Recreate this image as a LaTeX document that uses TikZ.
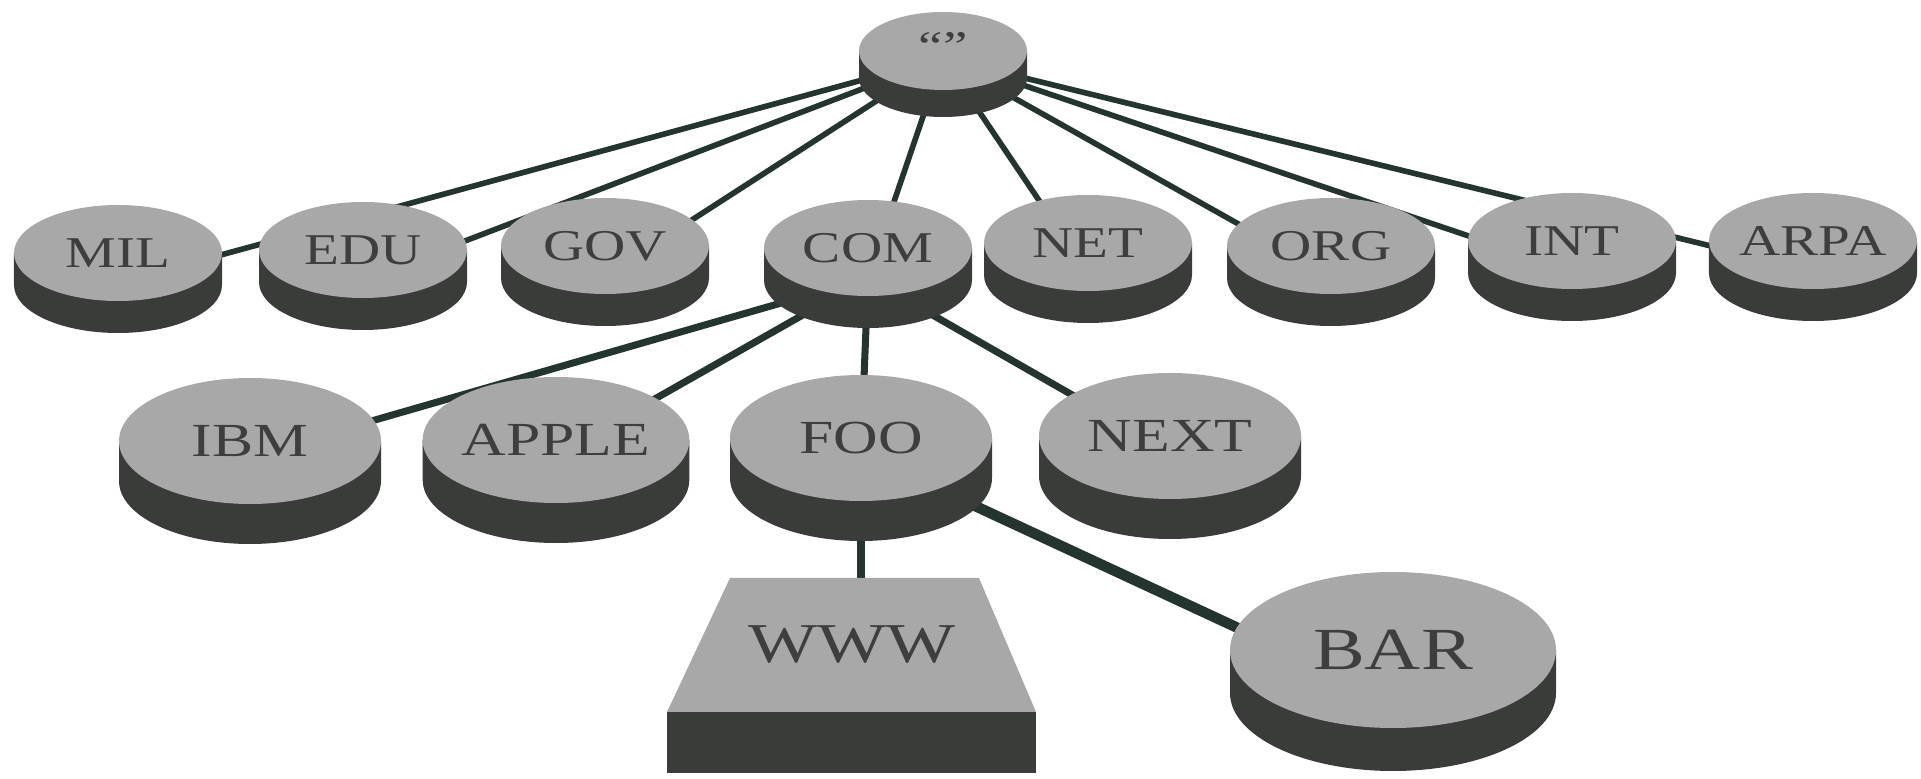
\documentclass[tikz,border=0pt]{standalone}
\usepackage{fontspec}
\setmainfont{Liberation Serif}[FakeStretch=1.3]
\usetikzlibrary{shapes.geometric,calc}
\definecolor{topgray}{RGB}{168,168,168}
\definecolor{sidegray}{RGB}{58,60,58}
\definecolor{linecol}{RGB}{36,52,46}
\definecolor{labelgray}{RGB}{62,62,62}
\pgfdeclarelayer{links}
\pgfdeclarelayer{sides}
\pgfsetlayers{links,sides,main}
\tikzset{
	disc/.style={ellipse, fill=topgray, inner sep=0pt, outer sep=0pt, text=labelgray},
	rootdisc/.style={disc, minimum width=1.68cm, minimum height=0.78cm, font=\fontsize{12}{14}\selectfont},
	tld/.style={disc, minimum width=2.08cm, minimum height=0.96cm, font=\fontsize{12.5}{15}\selectfont},
	sld/.style={disc, minimum width=2.62cm, minimum height=1.26cm, font=\fontsize{13.5}{16}\selectfont},
	bigdisc/.style={disc, minimum width=3.26cm, minimum height=1.56cm, font=\fontsize{17}{20}\selectfont},
	host/.style={rectangle, minimum width=3.69cm, minimum height=1.34cm, inner sep=0pt, outer sep=0pt,
		text=labelgray, font=\fontsize{16}{19}\selectfont},
	link/.style={draw=linecol, line width=1.6pt},
	heavylink/.style={link, line width=2pt}
}
\begin{document}
\begin{tikzpicture}
	\useasboundingbox (0,0) rectangle (19.21,7.79);
	% Wurzel
	\node [rootdisc] (root) at (9.43,7.28) {\strut “”};
	% Top-Level-Domains
	\node [tld] (mil) at (1.18,5.26) {MIL};
	\node [tld] (edu) at (3.63,5.29) {EDU};
	\node [tld] (gov) at (6.05,5.33) {GOV};
	\node [tld] (com) at (8.68,5.31) {COM};
	\node [tld] (net) at (10.88,5.36) {NET};
	\node [tld] (org) at (13.31,5.33) {ORG};
	\node [tld] (int) at (15.72,5.38) {INT};
	\node [tld] (arpa) at (18.13,5.38) {ARPA};
	% unter COM
	\node [sld] (ibm) at (2.50,3.38) {IBM};
	\node [sld] (apple) at (5.56,3.39) {APPLE};
	\node [sld] (foo) at (8.61,3.41) {FOO};
	\node [sld] (next) at (11.70,3.43) {NEXT};
	% unter FOO
	\node [host] (www) at (8.515,1.34) {WWW};
	\node [bigdisc] (bar) at (13.93,1.29) {BAR};
	% dunkle Seiten
	\begin{pgfonlayer}{sides}
		\foreach \k/\d/\s in {root/0.27/0.07, mil/0.32/0.30, edu/0.32/0.30, gov/0.32/0.30, com/0.32/0.30,
			net/0.32/0.30, org/0.32/0.30, int/0.32/0.30, arpa/0.32/0.30,
			ibm/0.40/0.15, apple/0.40/0.15, foo/0.40/0.15, next/0.40/0.15, bar/0.43/0.50} {
			\fill [sidegray] let \p0=(\k.center), \p1=(\k.east), \p2=(\k.north) in
				(\k.west) -- ++(0,-\d) arc [start angle=180, end angle=360, x radius={\x1-\x0}, y radius={\y2-\y0}] -- (\k.east) -- cycle;
			\coordinate (\k-c) at ([yshift=-\s*1cm]\k.center);
		}
		% Kasten WWW
		\fill [topgray] (www.south west) -- ([xshift=0.63cm]www.north west) -- ([xshift=-0.57cm]www.north east) -- (www.south east) -- cycle;
		\fill [sidegray] (www.south west) rectangle ([yshift=-0.61cm]www.south east);
	\end{pgfonlayer}
	% Verbindungen
	\begin{pgfonlayer}{links}
		\foreach \k in {mil,edu,gov,com,net,org,int,arpa}
			\draw [link] (root-c) -- (\k-c);
		\foreach \k in {ibm,apple,foo,next}
			\draw [heavylink] (com-c) -- (\k-c);
		\draw [heavylink] (foo-c) -- (foo-c |- www);
		\draw [link, line width=3pt] (foo-c) -- (bar-c);
	\end{pgfonlayer}
\end{tikzpicture}
\end{document}
